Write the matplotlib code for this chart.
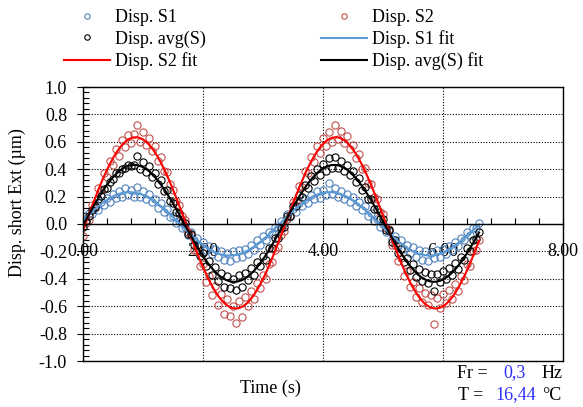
import numpy as np
import matplotlib.pyplot as plt
from matplotlib.ticker import MultipleLocator, FormatStrFormatter

plt.rcParams['font.family'] = ['Liberation Serif', 'DejaVu Serif']
plt.rcParams['axes.unicode_minus'] = False

# sampling: 20 Hz, 0 .. 6.6 s
dt = 0.05
n_samples = 133
time = np.round(np.arange(n_samples) * dt, 3)

disp_s1 = [
    0.04, 0.03, 0.08, 0.07, 0.12, 0.10, 0.16, 0.14, 0.19, 0.16,
    0.22, 0.19, 0.24, 0.20, 0.26, 0.21, 0.25, 0.20, 0.27, 0.20,
    0.24, 0.18, 0.22, 0.16, 0.18, 0.12, 0.15, 0.09, 0.11, 0.05,
    0.06, 0.01, 0.02, -0.03, -0.02, -0.08, -0.06, -0.12, -0.10, -0.16,
    -0.13, -0.19, -0.16, -0.22, -0.18, -0.24, -0.20, -0.26, -0.21, -0.27,
    -0.20, -0.25, -0.19, -0.24, -0.18, -0.22, -0.15, -0.19, -0.12, -0.15,
    -0.09, -0.12, -0.06, -0.07, -0.02, -0.03, 0.02, 0.01, 0.07, 0.05,
    0.11, 0.09, 0.15, 0.13, 0.18, 0.15, 0.21, 0.18, 0.24, 0.19,
    0.25, 0.21, 0.30, 0.22, 0.26, 0.20, 0.24, 0.18, 0.22, 0.16,
    0.20, 0.13, 0.16, 0.10, 0.13, 0.06, 0.08, 0.02, 0.04, -0.02,
    0.00, -0.06, -0.05, -0.11, -0.09, -0.15, -0.12, -0.18, -0.15, -0.21,
    -0.17, -0.24, -0.19, -0.26, -0.20, -0.27, -0.21, -0.25, -0.19, -0.24,
    -0.18, -0.22, -0.16, -0.19, -0.13, -0.16, -0.10, -0.12, -0.06, -0.08,
    -0.03, -0.03, 0.01,
]
disp_s2 = [
    -0.09, 0.01, 0.03, 0.14, 0.13, 0.26, 0.25, 0.37, 0.34, 0.46,
    0.43, 0.55, 0.50, 0.61, 0.56, 0.65, 0.59, 0.66, 0.72, 0.60,
    0.67, 0.58, 0.63, 0.53, 0.57, 0.46, 0.49, 0.39, 0.38, 0.29,
    0.25, 0.17, 0.14, 0.06, 0.03, -0.06, -0.08, -0.19, -0.20, -0.31,
    -0.29, -0.42, -0.38, -0.52, -0.45, -0.59, -0.51, -0.66, -0.55, -0.67,
    -0.60, -0.72, -0.56, -0.68, -0.53, -0.60, -0.49, -0.55, -0.43, -0.47,
    -0.37, -0.40, -0.29, -0.28, -0.19, -0.17, -0.08, -0.05, 0.04, 0.06,
    0.16, 0.17, 0.28, 0.27, 0.39, 0.37, 0.49, 0.45, 0.57, 0.52,
    0.63, 0.57, 0.67, 0.60, 0.72, 0.62, 0.68, 0.59, 0.64, 0.55,
    0.58, 0.48, 0.51, 0.40, 0.41, 0.30, 0.29, 0.20, 0.18, 0.09,
    0.07, -0.03, -0.04, -0.15, -0.15, -0.27, -0.25, -0.38, -0.34, -0.46,
    -0.42, -0.53, -0.47, -0.57, -0.50, -0.59, -0.52, -0.73, -0.54, -0.61,
    -0.51, -0.58, -0.48, -0.55, -0.44, -0.49, -0.38, -0.41, -0.29, -0.31,
    -0.20, -0.19, -0.12,
]
freq = 0.3        # Hz
temp = '16,44'    # degC

disp_s1 = np.array(disp_s1)
disp_s2 = np.array(disp_s2)
disp_avg = (disp_s1 + disp_s2) / 2

w = 2 * np.pi * freq


def sine_fit(t, y):
    # least squares fit of a sine at the test frequency
    A = np.column_stack([np.sin(w * t), np.cos(w * t), np.ones_like(t)])
    c, *_ = np.linalg.lstsq(A, y, rcond=None)
    return c


tt = np.linspace(time[0], time[-1], 400)
basis = np.column_stack([np.sin(w * tt), np.cos(w * tt), np.ones_like(tt)])
fit_s1 = basis @ sine_fit(time, disp_s1)
fit_s2 = basis @ sine_fit(time, disp_s2)
fit_avg = basis @ sine_fit(time, disp_avg)

c_s1 = '#4F81BD'
c_s2 = '#C0504D'
c_s1fit = '#5B9BD5'
c_s2fit = '#FF0000'
fs = 13

fig = plt.figure(figsize=(5.83, 4.07), dpi=100)
ax = fig.add_axes([83 / 583, 46 / 407, 480 / 583, 274 / 407])

mk = dict(ls='none', marker='o', mfc='none', ms=5.2, mew=0.8)
h_s1, = ax.plot(time, disp_s1, mec=c_s1, zorder=3, **mk)
h_s2, = ax.plot(time, disp_s2, mec=c_s2, zorder=3, **mk)
h_avg, = ax.plot(time, disp_avg, mec='k', zorder=3, **mk)
h_s1fit, = ax.plot(tt, fit_s1, color=c_s1fit, lw=1.5, zorder=4)
h_s2fit, = ax.plot(tt, fit_s2, color=c_s2fit, lw=1.5, zorder=4)
h_avgfit, = ax.plot(tt, fit_avg, color='k', lw=1.5, zorder=4)

ax.set_xlim(0, 8)
ax.set_ylim(-1, 1)
ax.xaxis.set_major_locator(MultipleLocator(2))
ax.xaxis.set_minor_locator(MultipleLocator(0.4))
ax.yaxis.set_major_locator(MultipleLocator(0.2))
ax.yaxis.set_minor_locator(MultipleLocator(0.04))
ax.xaxis.set_major_formatter(FormatStrFormatter('%.2f'))
ax.yaxis.set_major_formatter(FormatStrFormatter('%.1f'))

ax.grid(True, which='major', color='k', ls=(0, (1, 1.5)), lw=0.8, zorder=1)
ax.set_axisbelow(True)

ax.spines['bottom'].set_position(('data', 0))
ax.axhline(-1, color='k', lw=1.0, clip_on=False, zorder=5)
for sp in ax.spines.values():
    sp.set_linewidth(1.0)
    sp.set_zorder(5)

ax.tick_params(axis='both', which='major', direction='inout', length=8,
               width=0.8, labelsize=fs)
ax.tick_params(axis='both', which='minor', direction='in', length=4, width=0.8)
ax.tick_params(axis='y', which='major', pad=7.5)
ax.tick_params(axis='x', which='major', pad=9.5)

fig.text(17 / 583, 1 - 203 / 407, 'Disp. short Ext (µm)', rotation=90,
         ha='center', va='center', fontsize=fs)
fig.text(270 / 583, 1 - 388 / 407, 'Time (s)', ha='center', va='center',
         fontsize=fs)

blue = '#2F2FFF'
fig.text(457 / 583, 1 - 373 / 407, 'Fr =', va='center', fontsize=fs)
fig.text(503 / 583, 1 - 373 / 407, str(freq).replace('.', ','), va='center',
         fontsize=fs, color=blue)
fig.text(542 / 583, 1 - 373 / 407, 'Hz', va='center', fontsize=fs)
fig.text(458 / 583, 1 - 395 / 407, 'T =', va='center', fontsize=fs)
fig.text(495 / 583, 1 - 395 / 407, temp, va='center', fontsize=fs, color=blue)
fig.text(542 / 583, 1 - 395 / 407, '°C', va='center', fontsize=fs)

leg_kw = dict(loc='upper left', frameon=False, fontsize=fs, handlelength=2.55,
              handletextpad=0.28, labelspacing=0.24, borderpad=0,
              borderaxespad=0, markerscale=0.75)
fig.legend([h_s1, h_avg, h_s2fit], ['Disp. S1', 'Disp. avg(S)', 'Disp. S2 fit'],
           bbox_to_anchor=(64 / 583, 1 - 9 / 407), **leg_kw)
fig.legend([h_s2, h_s1fit, h_avgfit], ['Disp. S2', 'Disp. S1 fit', 'Disp. avg(S) fit'],
           bbox_to_anchor=(321 / 583, 1 - 9 / 407), **leg_kw)

fig.savefig('out.png', dpi=100)
